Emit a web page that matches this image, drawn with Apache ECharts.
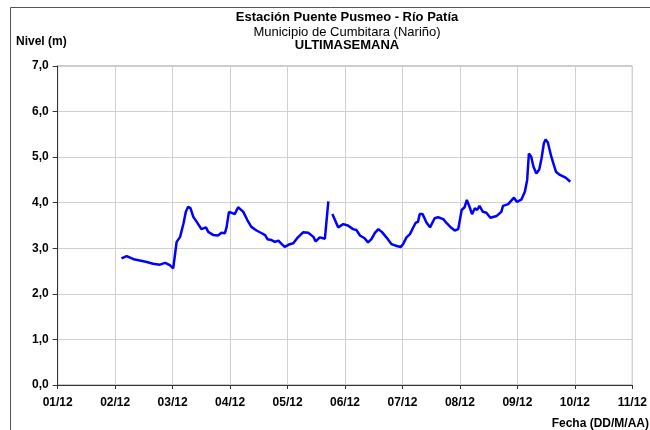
<!DOCTYPE html>
<html>
<head>
<meta charset="utf-8">
<script src="https://cdn.jsdelivr.net/npm/echarts@6/dist/echarts.min.js"></script>
<style>
  html, body { margin: 0; padding: 0; background: #fff; }
  #chart { width: 650px; height: 430px; }
</style>
</head>
<body>
<div id="chart"></div>
<script>
// Fecha en días de diciembre (fracción = hora del día) y nivel del río en metros
const dias = [
  2.11, 2.20, 2.32, 2.43, 2.55, 2.66, 2.78, 2.87, 2.95, 3.01,
  3.07, 3.13, 3.16, 3.19, 3.23, 3.27, 3.31, 3.36, 3.42, 3.50,
  3.58, 3.62, 3.71, 3.79, 3.85, 3.91, 3.94, 3.98, 4.04, 4.08,
  4.14, 4.17, 4.23, 4.30, 4.37, 4.46, 4.55, 4.61, 4.65, 4.72,
  4.78, 4.84, 4.90, 4.95, 5.04, 5.10, 5.18, 5.27, 5.36, 5.45,
  5.49, 5.56, 5.65, 5.71, 5.74, 5.78, 5.88, 5.97, 6.05, 6.14,
  6.20, 6.26, 6.34, 6.40, 6.46, 6.52, 6.58, 6.64, 6.72, 6.81,
  6.90, 6.97, 7.01, 7.07, 7.13, 7.18, 7.23, 7.27, 7.30, 7.35,
  7.42, 7.48, 7.56, 7.62, 7.71, 7.77, 7.85, 7.91, 7.97, 8.03,
  8.08, 8.12, 8.17, 8.21, 8.26, 8.30, 8.34, 8.40, 8.46, 8.53,
  8.64, 8.72, 8.75, 8.84, 8.94, 8.99, 9.07, 9.13, 9.17, 9.20,
  9.24, 9.28, 9.33, 9.38, 9.42, 9.46, 9.49, 9.53, 9.59, 9.67,
  9.74, 9.84, 9.92
];
const nivel = [
  2.78, 2.83, 2.76, 2.73, 2.70, 2.66, 2.64, 2.68, 2.63, 2.56,
  3.14, 3.25, 3.22, 3.55, 3.80, 3.91, 3.88, 3.69, 3.58, 3.42,
  3.46, 3.36, 3.29, 3.28, 3.34, 3.33, 3.47, 3.80, 3.77, 3.75,
  3.90, 3.91, 3.80, 3.62, 3.47, 3.39, 3.33, 3.29, 3.20, 3.18,
  3.14, 3.17, 3.09, 3.03, 3.09, 3.11, 3.24, 3.35, 3.34, 3.25,
  3.15, 3.24, 3.21, 4.03, null, 3.75, 3.46, 3.53, 3.50, 3.42,
  3.40, 3.28, 3.22, 3.13, 3.20, 3.34, 3.42, 3.36, 3.24, 3.09,
  3.05, 3.03, 3.09, 3.24, 3.31, 3.44, 3.56, 3.58, 3.75, 3.75,
  3.56, 3.46, 3.66, 3.68, 3.64, 3.55, 3.45, 3.39, 3.42, 3.84,
  3.90, 4.06, 3.90, 3.75, 3.88, 3.84, 3.93, 3.80, 3.78, 3.67,
  3.71, 3.80, 3.93, 3.97, 4.11, 4.02, 4.07, 4.24, 4.50, 5.08,
  5.01, 4.79, 4.64, 4.73, 4.97, 5.30, 5.39, 5.32, 5.01, 4.68,
  4.61, 4.55, 4.46
];
// Etiquetas del eje de fechas (días 1 a 11 de diciembre)
const etiquetasFecha = ['01/12', '02/12', '03/12', '04/12', '05/12', '06/12',
                        '07/12', '08/12', '09/12', '10/12', '11/12'];
const titulo = 'Estación Puente Pusmeo - Río Patía';
const subtitulo = 'Municipio de Cumbitara (Nariño)';
const periodo = 'ULTIMASEMANA';

const serie = dias.map((d, i) => [d, nivel[i]]);
const fuente = '"Liberation Sans", Arial, sans-serif';

const chart = echarts.init(document.getElementById('chart'), null, { renderer: 'canvas' });
chart.setOption({
  animation: false,
  backgroundColor: '#ffffff',
  textStyle: { fontFamily: fuente },
  graphic: [
    { type: 'rect', silent: true, z: -1,
      shape: { x: 10.5, y: 7.5, width: 700, height: 500 },
      style: { fill: 'none', stroke: '#555', lineWidth: 1 } },
    { type: 'text', x: 347, y: 11, silent: true,
      style: { text: titulo, font: 'bold 13px ' + fuente, fill: '#000', textAlign: 'center' } },
    { type: 'text', x: 347, y: 26, silent: true,
      style: { text: subtitulo, font: '13px ' + fuente, fill: '#000', textAlign: 'center' } },
    { type: 'text', x: 347, y: 39, silent: true,
      style: { text: periodo, font: 'bold 13px ' + fuente, fill: '#000', textAlign: 'center' } },
    { type: 'text', x: 16, y: 36, silent: true,
      style: { text: 'Nivel (m)', font: 'bold 12px ' + fuente, fill: '#000' } },
    { type: 'text', x: 649, y: 418, silent: true,
      style: { text: 'Fecha (DD/M/AA)', font: 'bold 12px ' + fuente, fill: '#000', textAlign: 'right' } }
  ],
  grid: {
    left: 57.7, right: 17.3, top: 66, bottom: 45,
    show: true, borderColor: '#999', borderWidth: 1, backgroundColor: 'transparent'
  },
  xAxis: {
    type: 'value', min: 1, max: 11, interval: 1,
    axisLine: { show: true, onZero: false, lineStyle: { color: '#333', width: 1 } },
    axisTick: { show: true, length: 4, lineStyle: { color: '#333' } },
    splitLine: { show: true, lineStyle: { color: '#d0d0d0', width: 1 } },
    axisLabel: {
      margin: 12, color: '#000', fontWeight: 'bold', fontSize: 12, fontFamily: fuente,
      formatter: v => etiquetasFecha[Math.round(v) - 1] || ''
    }
  },
  yAxis: {
    type: 'value', min: 0, max: 7, interval: 1,
    axisLine: { show: true, lineStyle: { color: '#333', width: 1 } },
    axisTick: { show: true, length: 5, lineStyle: { color: '#333' } },
    splitLine: { show: true, lineStyle: { color: '#d0d0d0', width: 1 } },
    axisLabel: {
      margin: 9, color: '#000', fontWeight: 'bold', fontSize: 12, fontFamily: fuente,
      formatter: v => v.toFixed(1).replace('.', ',')
    }
  },
  series: [{
    type: 'line',
    data: serie,
    showSymbol: false,
    connectNulls: false,
    smooth: false,
    lineStyle: { color: '#0000ff', width: 2.5 },
    itemStyle: { color: '#0000ff' }
  }]
});
</script>
</body>
</html>
